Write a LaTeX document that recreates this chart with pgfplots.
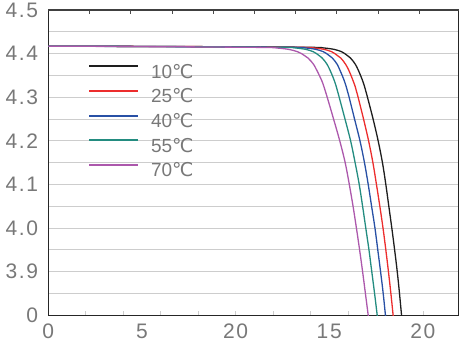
\documentclass[border=0pt]{standalone}
\usepackage{pgfplots}
\pgfplotsset{compat=1.18}
\usepackage{fontspec}
\setmainfont{Liberation Sans}
\newfontfamily\tickfont[LetterSpace=8]{Liberation Sans}
\newfontfamily\degfont{DejaVu Sans}
\definecolor{cBlack}{RGB}{30,30,30}
\definecolor{cRed}{RGB}{236,45,45}
\definecolor{cBlue}{RGB}{40,80,165}
\definecolor{cTeal}{RGB}{35,140,128}
\definecolor{cPurple}{RGB}{172,88,172}
\definecolor{cText}{RGB}{120,120,120}
\definecolor{cGrid}{RGB}{205,205,205}
\begin{document}
\begin{tikzpicture}
\begin{axis}[
  name=main,
  scale only axis, width=410.2pt, height=305.3pt,
  xmin=0, xmax=21.9, ymin=3.8, ymax=4.5,
  xtick={0,5,10,15,20}, xticklabels={0,5,20,15,20},
  minor xtick={2,4,...,20},
  ytick={3.8,3.9,4.0,4.1,4.2,4.3,4.4,4.5},
  yticklabels={0,3.9,4.0,4.1,4.2,4.3,4.4,4.5},
  minor ytick={3.85,3.95,4.05,4.15,4.25,4.35,4.45},
  ymajorgrids, yminorgrids,
  major grid style={cGrid, line width=1pt},
  minor grid style={cGrid, line width=1pt},
  xtick pos=left,
  tick align=inside,
  major tick length=0pt, minor tick length=4pt,
  minor x tick style={cGrid, line width=0.8pt},
  ytick style={draw=none}, minor y tick style={draw=none},
  axis line style={black!85, line width=1.2pt},
  xticklabel style={font=\tickfont\fontsize{21}{21}\selectfont, text=cText, anchor=base, inner sep=0pt, text depth=0pt, yshift=-23.3pt},
  yticklabel style={font=\tickfont\fontsize{21}{21}\selectfont, text=cText, anchor=east, inner sep=0pt, xshift=-10pt},
  clip=true,
  legend style={at={(0.0968,0.822)}, anchor=north west, draw=none, fill=none, inner sep=0pt, outer sep=0pt,
    font=\fontsize{19}{19}\selectfont, text=cText, row sep=6.6pt, column sep=12pt,
    nodes={inner sep=0pt, text height=14pt, text depth=4pt}},
  legend cell align=left,
  legend image code/.code={\draw[#1, line width=2pt] (0pt,7pt) -- (49pt,7pt);},
  every axis plot/.append style={line width=1.3pt, smooth, tension=0.55},
]
\addplot[cBlack] coordinates {(0,4.417) (4,4.4166) (8,4.4160) (12,4.4152) (14.3,4.4142) (14.7,4.4130) (15.0,4.4115) (15.25,4.4098) (15.45,4.4075) (15.65,4.4045) (15.83,4.40) (16.00,4.3945) (16.13,4.39) (16.27,4.383) (16.40,4.375) (16.54,4.363) (16.67,4.35) (16.78,4.338) (16.88,4.325) (16.96,4.3125) (17.04,4.30) (17.34,4.25) (17.61,4.20) (17.84,4.15) (18.02,4.10) (18.18,4.05) (18.34,4.00) (18.49,3.95) (18.63,3.90) (18.75,3.85) (18.86,3.80) (18.91,3.78)};
\addlegendentry{10{\degfont ℃}}
\addplot[cRed] coordinates {(0,4.417) (4,4.4166) (8,4.4160) (11.5,4.4151) (13.77,4.4142) (14.17,4.4130) (14.47,4.4115) (14.72,4.4098) (14.92,4.4075) (15.12,4.4045) (15.30,4.40) (15.47,4.3945) (15.61,4.39) (15.75,4.383) (15.88,4.375) (16.03,4.363) (16.16,4.35) (16.27,4.338) (16.38,4.325) (16.46,4.3125) (16.54,4.30) (16.83,4.25) (17.10,4.20) (17.33,4.15) (17.52,4.10) (17.70,4.05) (17.87,4.00) (18.02,3.95) (18.16,3.90) (18.29,3.85) (18.41,3.80) (18.46,3.78)};
\addlegendentry{25{\degfont ℃}}
\addplot[cBlue] coordinates {(0,4.417) (4,4.4166) (8,4.4158) (11,4.4150) (13.33,4.4142) (13.73,4.4130) (14.03,4.4115) (14.28,4.4098) (14.48,4.4075) (14.68,4.4045) (14.86,4.40) (15.03,4.3945) (15.16,4.39) (15.30,4.383) (15.43,4.375) (15.56,4.363) (15.69,4.35) (15.80,4.338) (15.90,4.325) (15.98,4.3125) (16.06,4.30) (16.35,4.25) (16.64,4.20) (16.88,4.15) (17.08,4.10) (17.26,4.05) (17.44,4.00) (17.59,3.95) (17.74,3.90) (17.88,3.85) (18.00,3.80) (18.05,3.78)};
\addlegendentry{40{\degfont ℃}}
\addplot[cTeal] coordinates {(0,4.417) (4,4.4165) (8,4.4157) (10.5,4.4150) (12.79,4.4142) (13.19,4.4130) (13.49,4.4115) (13.74,4.4098) (13.94,4.4075) (14.14,4.4045) (14.32,4.40) (14.49,4.3945) (14.62,4.39) (14.76,4.383) (14.89,4.375) (15.03,4.363) (15.16,4.35) (15.27,4.338) (15.37,4.325) (15.45,4.3125) (15.53,4.30) (15.84,4.25) (16.14,4.20) (16.38,4.15) (16.60,4.10) (16.78,4.05) (16.95,4.00) (17.12,3.95) (17.27,3.90) (17.42,3.85) (17.56,3.80) (17.62,3.78)};
\addlegendentry{55{\degfont ℃}}
\addplot[cPurple] coordinates {(0,4.417) (4,4.4164) (7,4.4156) (9.5,4.4149) (11.76,4.4140) (12.22,4.4128) (12.57,4.4113) (12.85,4.4096) (13.08,4.4073) (13.31,4.4043) (13.52,4.40) (13.71,4.3945) (13.86,4.39) (14.02,4.383) (14.17,4.375) (14.32,4.363) (14.47,4.35) (14.60,4.338) (14.71,4.325) (14.80,4.3125) (14.89,4.30) (15.23,4.25) (15.56,4.20) (15.85,4.15) (16.07,4.10) (16.27,4.05) (16.45,4.00) (16.62,3.95) (16.78,3.90) (16.93,3.85) (17.08,3.80) (17.14,3.78)};
\addlegendentry{70{\degfont ℃}}
\end{axis}
\begin{axis}[
  scale only axis, width=410.2pt, height=305.3pt,
  xmin=0, xmax=21.9, ymin=3.8, ymax=4.5,
  axis x line*=top, hide y axis,
  xtick={2.2,4.4,6.6,8.8,11,13.2,15.4,17.6,19.8},
  xticklabels={},
  tick align=inside, major tick length=4pt,
  xtick style={black!70, line width=0.8pt},
  axis line style={black!75, line width=1.2pt},
]
\addplot[draw=none] coordinates {(0,4) (1,4)};
\end{axis}
\pgfresetboundingbox
\path[use as bounding box] ([shift={(-48.3pt,-26.7pt)}]main.south west) rectangle ([shift={(1.5pt,10pt)}]main.north east);
\end{tikzpicture}
\end{document}
